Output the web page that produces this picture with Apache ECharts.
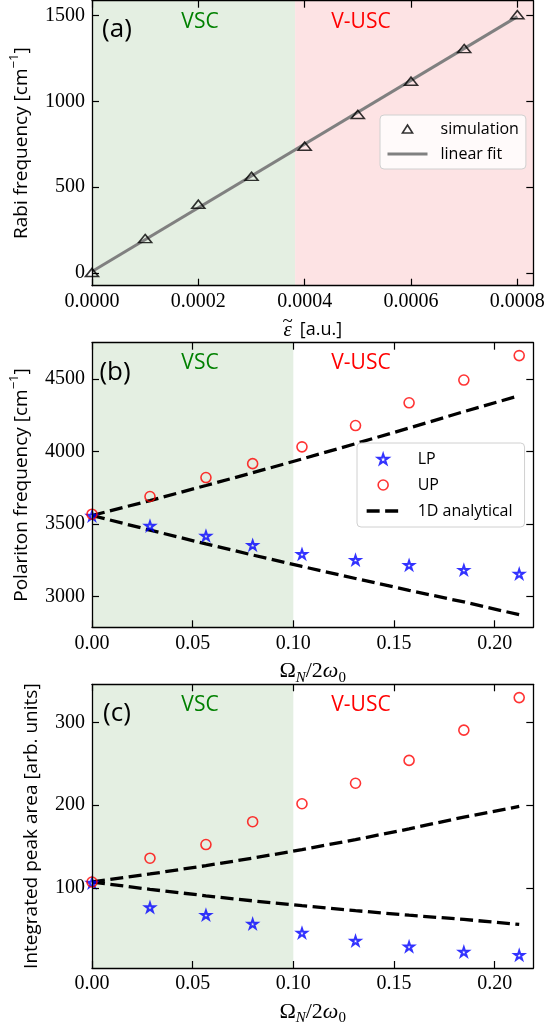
<!DOCTYPE html>
<html><head><meta charset="utf-8">
<script src="https://cdn.jsdelivr.net/npm/echarts@6/dist/echarts.min.js"></script>
<style>html,body{margin:0;padding:0;background:#fff}#c{width:548px;height:1027px}</style>
</head><body><div id="c"></div><script>
// ---- data ----
const epsX = [0, 0.0001, 0.0002, 0.0003, 0.0004, 0.0005, 0.0006, 0.0007, 0.0008];
const rabiSim = [2, 200, 400, 563, 739, 924, 1118, 1308, 1506];
const fitX = [0, 0.0008];
const fitY = [8, 1494];

const gX = [0, 0.0288, 0.0566, 0.0798, 0.1043, 0.1309, 0.1575, 0.1847, 0.2122];
const lpFreq = [3555, 3486, 3417, 3353, 3291, 3251, 3215, 3182, 3155];
const upFreq = [3567, 3689, 3820, 3916, 4032, 4179, 4336, 4493, 4662];
const anaUpFreq = [3558, 3661, 3765, 3853, 3948, 4054, 4162, 4275, 4385];
const anaLowFreq = [3558, 3457, 3362, 3285, 3206, 3123, 3041, 2961, 2873];

const lpArea = [106, 76.4, 67.1, 56.3, 45.4, 35.8, 28.9, 22.5, 18.6];
const upArea = [107, 135.8, 152.3, 180, 201.7, 226.5, 254.2, 290.8, 330.2];
const anaUpArea = [107, 116.7, 126.8, 135.9, 146.2, 158.3, 171.3, 185.6, 198.4];
const anaLowArea = [107, 98.1, 90.3, 84.2, 78.3, 72.3, 66.8, 61.7, 55.6];

const xTicksA = [0, 0.0002, 0.0004, 0.0006, 0.0008];
const yTicksA = [0, 500, 1000, 1500];
const xTicksBC = [0, 0.05, 0.10, 0.15, 0.20];
const yTicksB = [3000, 3500, 4000, 4500];
const yTicksC = [100, 200, 300];

const vscEdgeA = 0.000382;
const vscEdgeBC = 0.10;

// ---- helpers ----
const zip = (xs, ys) => xs.map((x, i) => [x, ys[i]]);
const SERIF = 'Liberation Serif';
const SANS = 'Open Sans';
const GREEN_BG = '#e4efe2', PINK_BG = '#fde3e4';
const STAR = 'path://M50,0 L61.2,34.55 L97.55,34.55 L68.2,55.9 L79.4,90.45 L50,69.1 L20.6,90.45 L31.8,55.9 L2.45,34.55 L38.8,34.55 Z';
const TRI = 'path://M60,0 L120,95 L0,95 Z';
const CLEAR = 'rgba(0,0,0,0)';

const lineBase = {color: '#000', width: 1.3};
function xPair(g, min, max, ticks, dec, name, nameStyle, gap) {
  const common = {
    type: 'value', gridIndex: g, min: min, max: max, z: 10,
    axisLine: {show: true, onZero: false, lineStyle: lineBase},
    axisTick: {show: true, inside: true, length: 7, customValues: ticks, lineStyle: {color: '#000', width: 1.2}},
    splitLine: {show: false}
  };
  return [
    Object.assign({}, common, {
      position: 'bottom',
      axisLabel: {show: true, customValues: ticks, margin: 6, formatter: v => Number(v).toFixed(dec),
        fontFamily: SERIF, fontSize: 20, color: '#000'},
      name: name, nameLocation: 'middle', nameGap: gap, nameTextStyle: nameStyle
    }),
    Object.assign({}, common, {position: 'top', axisLabel: {show: false}})
  ];
}
function yPair(g, min, max, ticks, name, gap) {
  const common = {
    type: 'value', gridIndex: g, min: min, max: max, z: 10,
    axisLine: {show: true, onZero: false, lineStyle: lineBase},
    axisTick: {show: true, inside: true, length: 7, customValues: ticks, lineStyle: {color: '#000', width: 1.2}},
    splitLine: {show: false}
  };
  return [
    Object.assign({}, common, {
      position: 'left',
      axisLabel: {show: true, customValues: ticks, margin: 7, formatter: v => String(v),
        fontFamily: SERIF, fontSize: 20, color: '#000'},
      name: name, nameLocation: 'middle', nameRotate: 90, nameGap: gap,
      nameTextStyle: {fontFamily: SANS, fontSize: 19, color: '#000', lineHeight: 26,
        rich: {sup: {fontFamily: SANS, fontSize: 13, lineHeight: 14, verticalAlign: 'top', color: '#000'}}}
    }),
    Object.assign({}, common, {position: 'right', axisLabel: {show: false}})
  ];
}
const omegaName = '{m|Ω}{s|N}{m|/2}{i|ω}{z|0}';
const omegaStyle = {color: '#000', rich: {
  m: {fontFamily: SERIF, fontSize: 22, lineHeight: 28, color: '#000'},
  i: {fontFamily: SERIF, fontStyle: 'italic', fontSize: 22, lineHeight: 28, color: '#000'},
  s: {fontFamily: SERIF, fontStyle: 'italic', fontSize: 15, lineHeight: 16, verticalAlign: 'bottom', color: '#000'},
  z: {fontFamily: SERIF, fontSize: 15, lineHeight: 16, verticalAlign: 'bottom', color: '#000'}
}};
// two-line name: wide tilde above the italic epsilon
const epsName = '{t|~}{pad| }\n{e|ε}{r| [a.u.]}';
const epsStyle = {color: '#000', rich: {
  t: {fontFamily: SERIF, fontSize: 19, lineHeight: 2, width: 12, align: 'center', color: '#000'},
  pad: {width: 50, lineHeight: 2},
  e: {fontFamily: SERIF, fontStyle: 'italic', fontSize: 21, lineHeight: 14, width: 12, align: 'center', color: '#000'},
  r: {fontFamily: SANS, fontSize: 18, lineHeight: 14, width: 50, align: 'left', color: '#000'}
}};

const xAxis = [].concat(
  xPair(0, 0, 0.00083, xTicksA, 4, epsName, epsStyle, 35),
  xPair(1, 0, 0.2192, xTicksBC, 2, omegaName, omegaStyle, 30),
  xPair(2, 0, 0.2192, xTicksBC, 2, omegaName, omegaStyle, 30)
);
const yAxis = [].concat(
  yPair(0, -75, 1587, yTicksA, 'Rabi frequency [cm{sup|−1}]', 55),
  yPair(1, 2786, 4751, yTicksB, 'Polariton frequency [cm{sup|−1}]', 57),
  yPair(2, 2.9, 346.3, yTicksC, 'Integrated peak area [arb. units]', 47)
);

const dashStyle = {color: '#000', width: 3.3, type: [13, 5.5]};
function dashed(name, xi, yi, xs, ys, area) {
  const s = {type: 'line', name: name, xAxisIndex: xi, yAxisIndex: yi, data: zip(xs, ys),
    symbol: 'none', z: 3, lineStyle: dashStyle, itemStyle: {color: '#000'}};
  if (area) s.markArea = area;
  return s;
}
const starStyle = {color: CLEAR, borderColor: '#0000ff', borderWidth: 2};
const circStyle = {color: CLEAR, borderColor: '#ff0000', borderWidth: 1.6};
const triStyle = {color: CLEAR, borderColor: '#000', borderWidth: 1.6};
function stars(xi, yi, ys) {
  return {type: 'scatter', name: 'LP', xAxisIndex: xi, yAxisIndex: yi, data: zip(gX, ys), z: 5,
    symbol: STAR, symbolKeepAspect: true, symbolSize: 9.5, itemStyle: starStyle};
}
function circles(xi, yi, ys) {
  return {type: 'scatter', name: 'UP', xAxisIndex: xi, yAxisIndex: yi, data: zip(gX, ys), z: 6,
    symbol: 'circle', symbolKeepAspect: true, symbolSize: 10, itemStyle: circStyle};
}
const greenArea = {silent: true, data: [[{xAxis: 0, itemStyle: {color: GREEN_BG}}, {xAxis: vscEdgeBC}]]};

const series = [
  {type: 'line', name: 'linear fit', xAxisIndex: 0, yAxisIndex: 0, data: zip(fitX, fitY), symbol: 'none', z: 3,
   lineStyle: {color: '#808080', width: 3}, itemStyle: {color: '#808080'},
   markArea: {silent: true, data: [
     [{xAxis: 0, itemStyle: {color: GREEN_BG}}, {xAxis: vscEdgeA}],
     [{xAxis: vscEdgeA, itemStyle: {color: PINK_BG}}, {xAxis: 0.00083}]
   ]}},
  {type: 'scatter', name: 'simulation', xAxisIndex: 0, yAxisIndex: 0, data: zip(epsX, rabiSim), z: 4,
   symbol: TRI, symbolKeepAspect: true, symbolSize: [13, 10.3], itemStyle: triStyle},
  dashed('1D analytical', 2, 2, gX, anaUpFreq, greenArea),
  dashed('1D analytical', 2, 2, gX, anaLowFreq),
  stars(2, 2, lpFreq),
  circles(2, 2, upFreq),
  dashed('1D analytical', 4, 4, gX, anaUpArea, greenArea),
  dashed('1D analytical', 4, 4, gX, anaLowArea),
  stars(4, 4, lpArea),
  circles(4, 4, upArea)
];

const noDot = {color: CLEAR, borderColor: CLEAR, borderWidth: 0, opacity: 0};
const legendText = {fontFamily: SANS, fontSize: 16, color: '#000', lineHeight: 18, rich: {p: {width: 8}, q: {width: 13}}};
const legendBox = {orient: 'vertical', backgroundColor: 'rgba(255,255,255,0.8)', borderColor: '#d0d0d0',
  borderWidth: 1, borderRadius: 4, selectedMode: false, textStyle: legendText, symbolKeepAspect: true};

const txt = (x, y, t, color, size) => ({type: 'text', x: x, y: y, z: 100,
  style: {text: t, fill: color, font: size + 'px "' + SANS + '"', align: 'center', verticalAlign: 'middle',
          textAlign: 'center', textVerticalAlign: 'middle'}});

const option = {
  animation: false,
  backgroundColor: '#fff',
  grid: [
    {left: 92, top: 0.7, width: 441.3, height: 285},
    {left: 92, top: 342.7, width: 441.3, height: 284.6},
    {left: 92, top: 684.3, width: 441.3, height: 285}
  ],
  xAxis: xAxis,
  yAxis: yAxis,
  legend: [
    Object.assign({}, legendBox, {left: 380, top: 115, padding: [5, 7, 6, 6], itemWidth: 40, itemHeight: 8, itemGap: 7,
      formatter: '{p| }{name}',
      data: [
        {name: 'simulation', itemStyle: triStyle},
        {name: 'linear fit', itemStyle: noDot, lineStyle: {color: '#808080', width: 3}}
      ]}),
    Object.assign({}, legendBox, {left: 357, top: 443, padding: [7, 12, 7, 8], itemWidth: 33, itemHeight: 10, itemGap: 8,
      formatter: '{q| }{name}',
      data: [
        {name: 'LP', itemStyle: starStyle},
        {name: 'UP', itemStyle: circStyle},
        {name: '1D analytical', itemStyle: noDot, lineStyle: dashStyle}
      ]})
  ],
  graphic: [
    txt(117, 30, '(a)', '#000', 26),
    txt(115, 373, '(b)', '#000', 26),
    txt(117, 714, '(c)', '#000', 26),
    txt(200, 22, 'VSC', '#008000', 21),
    txt(361, 22, 'V-USC', '#ff0000', 21),
    txt(200, 363, 'VSC', '#008000', 21),
    txt(361, 363, 'V-USC', '#ff0000', 21),
    txt(200, 705, 'VSC', '#008000', 21),
    txt(361, 705, 'V-USC', '#ff0000', 21)
  ],
  series: series
};
const chart = echarts.init(document.getElementById('c'), null, {renderer: 'canvas'});
chart.setOption(option);
</script></body></html>
